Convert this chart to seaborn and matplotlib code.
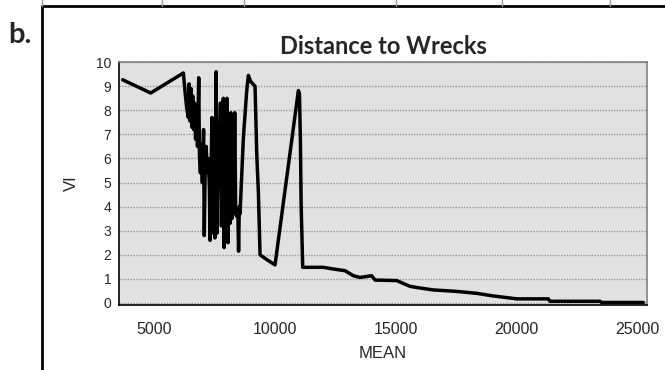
import pandas as pd
import numpy as np
import matplotlib
matplotlib.use('Agg')
import matplotlib.pyplot as plt
from matplotlib.lines import Line2D
import seaborn as sns

# Distance to wrecks: MEAN (x) vs VI (y)
mean_vals = [3700, 4860, 6214, 6300, 6352, 6420, 6450, 6490, 6530, 6570,
             6600, 6640, 6680, 6720, 6750, 6800, 6850, 6880, 6920, 6960,
             7000, 7050, 7080, 7120, 7160, 7200, 7250, 7290, 7320, 7360,
             7400, 7440, 7470, 7520, 7570, 7610, 7650, 7700, 7750, 7790,
             7830, 7870, 7900, 7940, 7980, 8020, 8060, 8100, 8140, 8180,
             8220, 8260, 8300, 8340, 8380, 8420, 8470, 8500, 8530, 8560,
             8698, 8836, 8906, 9000, 9182, 9252, 9320, 9389, 9596, 10010,
             10976, 11020, 11060, 11090, 11156, 12011, 12425, 12908, 13253, 13529,
             14012, 14150, 15047, 15599, 16013, 16565, 17531, 18359, 18980, 20015,
             21326, 21395, 23465, 23534, 25259]
vi_vals = [9.27, 8.72, 9.55, 8.6, 8.1, 7.7, 9.1, 7.55, 8.9, 7.3,
           8.6, 7.2, 8.3, 6.8, 7.9, 6.5, 9.35, 6.1, 5.4, 6.6,
           5.0, 7.2, 2.8, 5.8, 6.5, 5.4, 6.0, 4.8, 2.6, 5.5,
           7.7, 2.9, 6.6, 2.7, 9.6, 2.9, 6.3, 5.9, 8.3, 3.2,
           6.0, 8.5, 2.3, 7.8, 3.0, 8.5, 2.5, 7.8, 3.3, 7.9,
           3.5, 4.0, 3.7, 7.9, 3.8, 3.6, 3.8, 2.15, 4.0, 3.7,
           6.85, 8.8, 9.45, 9.2, 9.0, 6.2, 4.6, 2.0, 1.85, 1.58,
           8.82, 8.7, 6.75, 4.1, 1.48, 1.48, 1.41, 1.34, 1.13, 1.06,
           1.13, 0.95, 0.93, 0.69, 0.62, 0.54, 0.48, 0.40, 0.30, 0.17,
           0.17, 0.07, 0.07, 0.02, 0.02]

x_ticks = [5000, 10000, 15000, 20000, 25000]
y_ticks = list(range(0, 11))

df = pd.DataFrame({'MEAN': mean_vals, 'VI': vi_vals})

sns.set_style('white', {'axes.facecolor': '#e1e1e1'})
plt.rcParams['font.family'] = ['Liberation Sans', 'DejaVu Sans']

fig = plt.figure(figsize=(6.65, 3.70), dpi=100)
ax = fig.add_axes([0.179, 0.176, 0.794, 0.656])

sns.lineplot(data=df, x='MEAN', y='VI', sort=False, estimator=None,
             color='black', linewidth=2.5, ax=ax, zorder=3)

ax.set_xlim(3550, 25414)
ax.set_ylim(-0.08, 10)
ax.set_xticks(x_ticks)
ax.set_yticks(y_ticks)
ax.set_xticklabels([str(t) for t in x_ticks], fontsize=11.5)
ax.set_yticklabels([str(t) for t in y_ticks], fontsize=10)
ax.tick_params(axis='x', direction='out', length=5.5, width=1, pad=7, color='black')
ax.tick_params(axis='y', direction='out', length=4.5, width=1, pad=1, color='black')

for v in y_ticks:
    ax.axhline(v, color='#9a9a9a', linestyle=(0, (1, 1)), linewidth=1, zorder=1)

for side in ['left', 'bottom']:
    ax.spines[side].set_color('black')
    ax.spines[side].set_linewidth(1.2)
for side in ['top', 'right']:
    ax.spines[side].set_color('#808080')
    ax.spines[side].set_linewidth(1.2)

ax.set_xlabel('MEAN', fontsize=12, labelpad=6)
ax.set_ylabel('VI', fontsize=12, labelpad=12)
ax.set_title('Distance to Wrecks', fontsize=17, fontweight='bold',
             family=['Lato', 'DejaVu Sans'], pad=6)

# panel letter and frame
fig.text(0.012, 0.885, 'b.', fontsize=21, fontweight='bold',
         family=['Lato', 'DejaVu Sans'])
fig.add_artist(Line2D([0.063, 1.0], [0.984, 0.984], color='black', linewidth=2))
fig.add_artist(Line2D([0.063, 0.063], [0.0, 0.984], color='black', linewidth=2))
for xv in [0.063, 0.243, 0.367, 0.595, 0.755, 0.917]:
    fig.add_artist(Line2D([xv, xv], [0.984, 1.0], color='#999999', linewidth=1))

fig.savefig('out.png', dpi=100)
